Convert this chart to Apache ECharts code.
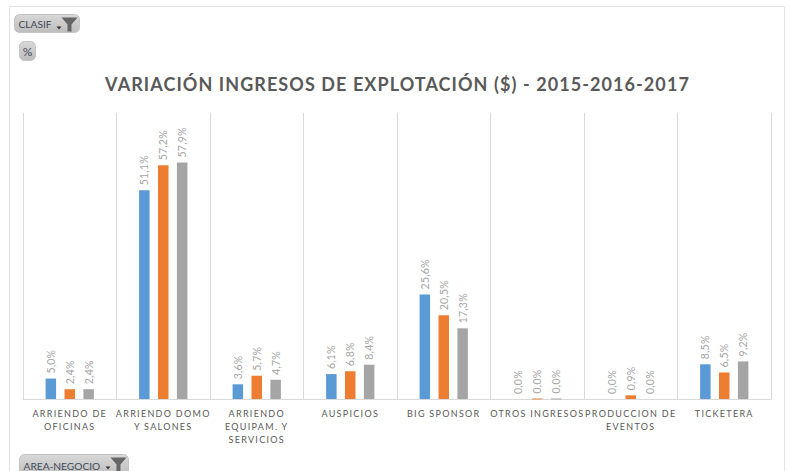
<!DOCTYPE html>
<html>
<head>
<meta charset="utf-8">
<title>Variación ingresos de explotación</title>
<style>
  html, body { margin: 0; padding: 0; background: #fff; }
  #chart { width: 789px; height: 471px; }
  /* echarts text has no letter spacing option, svg text takes it from css */
  #chart text[style*="18px"] { letter-spacing: 1.07px; }
  #chart text[style*=" 9px"] { letter-spacing: 1.3px; }
  #chart text[style*="10.5px"] { letter-spacing: 0.2px; }
</style>
<script src="https://cdn.jsdelivr.net/npm/echarts@6/dist/echarts.min.js"></script>
</head>
<body>
<div id="chart"></div>
<script>
const categories = [
  'ARRIENDO DE\nOFICINAS',
  'ARRIENDO DOMO\nY SALONES',
  'ARRIENDO\nEQUIPAM. Y\nSERVICIOS',
  'AUSPICIOS',
  'BIG SPONSOR',
  'OTROS INGRESOS',
  'PRODUCCION DE\nEVENTOS',
  'TICKETERA'
]
const values2015 = [5.0, 51.1, 3.6, 6.1, 25.6, 0.0, 0.0, 8.5]
const values2016 = [2.4, 57.2, 5.7, 6.8, 20.5, 0.04, 0.9, 6.5]
const values2017 = [2.4, 57.9, 4.7, 8.4, 17.3, 0.04, 0.0, 9.2]

const chart = echarts.init(document.getElementById('chart'), null, { renderer: 'svg' })

const formatPercent = (params) => params.value.toFixed(1).replace('.', ',') + '%'

// values that round to 0,0 but are above zero still show as a pale line
const toBarData = (data, color) => data.map((value) => ({
  value,
  itemStyle: value > 0 && value < 0.05
    ? { color: color + '80', borderColor: color + '80', borderWidth: 1 }
    : {}
}))

const makeSeries = (name, data, color) => ({
  name,
  type: 'bar',
  data: toBarData(data, color),
  barWidth: 10.5,
  barGap: '80%',
  itemStyle: { color },
  label: {
    show: true,
    position: 'top',
    rotate: 90,
    align: 'left',
    verticalAlign: 'middle',
    distance: 5,
    color: '#a6a6a6',
    fontFamily: 'Lato',
    fontSize: 10.5,
    formatter: formatPercent
  }
})

// pivot chart field buttons
const fieldButton = (x, y, width, height, text, hasFilter) => {
  const items = [
    {
      type: 'rect',
      shape: { x, y, width, height, r: 5 },
      style: {
        fill: new echarts.graphic.LinearGradient(0, 0, 0, 1, [
          { offset: 0, color: '#d8d8d8' },
          { offset: 1, color: '#bdbdbd' }
        ]),
        stroke: '#c4c4c4'
      }
    },
    {
      type: 'text',
      style: {
        x: hasFilter ? x + 4 : x + width / 2,
        y: y + height / 2,
        text,
        fill: '#3f4a55',
        font: hasFilter ? '10.2px Lato' : '12px Lato',
        align: hasFilter ? 'left' : 'center',
        verticalAlign: 'middle'
      }
    }
  ]
  if (hasFilter) {
    const right = x + width - 2
    const top = y + 3
    items.push({
      type: 'polygon',
      shape: {
        points: [
          [right - 16, top], [right, top], [right - 6, top + 7],
          [right - 6, top + 14], [right - 10, top + 14], [right - 10, top + 7]
        ]
      },
      style: { fill: '#666' }
    })
    items.push({
      type: 'polygon',
      shape: {
        points: [[right - 21, top + 9], [right - 16, top + 9], [right - 18.5, top + 12]]
      },
      style: { fill: '#333' }
    })
  }
  return items
}

chart.setOption({
  animation: false,
  backgroundColor: '#fff',
  title: {
    text: 'VARIACIÓN INGRESOS DE EXPLOTACIÓN ($) - 2015-2016-2017',
    left: 392.5,
    top: 70,
    textAlign: 'center',
    textStyle: {
      color: '#595959',
      fontFamily: 'Lato',
      fontSize: 18,
      fontWeight: 'bold'
    }
  },
  grid: { left: 23, right: 18, top: 113, bottom: 72 },
  xAxis: {
    type: 'category',
    data: categories,
    axisLine: { lineStyle: { color: '#d9d9d9' } },
    axisTick: { show: false },
    splitLine: { show: true, lineStyle: { color: '#d9d9d9' } },
    axisLabel: {
      interval: 0,
      margin: 8,
      color: '#595959',
      fontFamily: 'Lato',
      fontSize: 9,
      lineHeight: 13
    }
  },
  yAxis: {
    type: 'value',
    min: 0,
    max: 70,
    show: false
  },
  series: [
    makeSeries('2015', values2015, '#5b9bd5'),
    makeSeries('2016', values2016, '#ed7d31'),
    makeSeries('2017', values2017, '#a5a5a5')
  ],
  graphic: [
    {
      type: 'rect',
      silent: true,
      shape: { x: 9.5, y: 6.5, width: 775, height: 470 },
      style: { fill: 'none', stroke: '#e3e3e3' }
    },
    ...fieldButton(14.5, 14.5, 65, 18, 'CLASIF', true),
    ...fieldButton(19.5, 41.5, 16, 19, '%', false),
    ...fieldButton(19.5, 454.5, 109, 22, 'AREA-NEGOCIO', true)
  ]
})
</script>
</body>
</html>
